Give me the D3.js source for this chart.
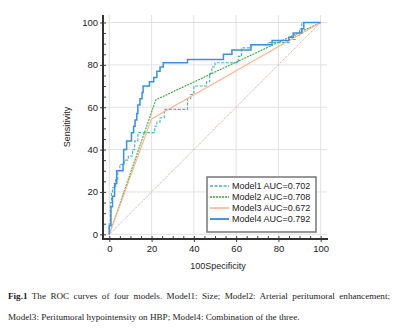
<!DOCTYPE html>
<html>
<head>
<meta charset="utf-8">
<script src="https://cdn.jsdelivr.net/npm/d3@7"></script>
<style>
  body { margin: 0; background: #fff; }
  svg { display: block; }
</style>
</head>
<body>
<svg id="chart" width="400" height="331"></svg>
<script>
// ROC points [100-Specificity, Sensitivity]
const model1Points = [[0,0],[0,5],[0.5,15],[1,20],[1.5,22],[3,26],[4,30],[5,33],[7,35],[9,37],[11,40],[12,44],[13.5,48],[21.5,51],[22.5,53],[24,55],[26,59],[37,64],[38.5,66],[40,70],[46,72],[47.5,76],[48.5,79],[50,81],[61,84],[62.5,88],[67,89.5],[75,90.5],[85,92],[88,94],[90,97],[91,100],[100,100]];
const model2Points = [[0,0],[22,63.5],[100,100]];
const model3Points = [[0,0],[20,54.5],[100,100]];
const model4Points = [[0,0],[0,4],[0.8,13],[1.5,18],[2.5,24],[3.5,30],[6.5,33],[6.8,40],[8.2,44],[10.5,48],[11.5,51],[12.2,54],[13,57],[13.5,61],[14.5,64],[15.5,67],[16,70],[19,72],[21,74],[22.5,77],[24,79],[25.5,81],[37,82.5],[54,85],[58,87],[67,89.5],[77,91.5],[85,93],[87,95],[91,97],[92,100],[100,100]];
const legendLabels = ['Model1 AUC=0.702', 'Model2 AUC=0.708', 'Model3 AUC=0.672', 'Model4 AUC=0.792'];
const majorTicks = [0, 20, 40, 60, 80, 100];
const minorTicks = d3.range(0, 101, 5);
const caption1 = 'The ROC curves of four models. Model1: Size; Model2: Arterial peritumoral enhancement;';
const caption2 = 'Model3: Peritumoral hypointensity on HBP; Model4: Combination of the three.';

const svg = d3.select('#chart');
const x = d3.scaleLinear().domain([0, 100]).range([109.3, 320.7]);
const y = d3.scaleLinear().domain([0, 100]).range([234.3, 22.5]);
const plotLeft = 103, plotRight = 327, plotTop = 15, plotBottom = 239;

// grid
svg.append('g').selectAll('line').data(majorTicks).enter().append('line')
  .attr('x1', plotLeft).attr('x2', plotRight).attr('y1', d => y(d)).attr('y2', d => y(d))
  .attr('stroke', '#e2e2e2').attr('stroke-width', 1);
svg.append('g').selectAll('line').data(majorTicks).enter().append('line')
  .attr('x1', d => x(d)).attr('x2', d => x(d)).attr('y1', plotTop).attr('y2', plotBottom)
  .attr('stroke', '#e2e2e2').attr('stroke-width', 1);

// axes
const font = 'Arial, "Liberation Sans", sans-serif';
const yMinor = svg.append('g').attr('transform', `translate(${plotLeft},0)`)
  .call(d3.axisLeft(y).tickValues(minorTicks).tickSize(-3).tickFormat(''));
const yMajor = svg.append('g').attr('transform', `translate(${plotLeft},0)`)
  .call(d3.axisLeft(y).tickValues(majorTicks).tickSize(3).tickPadding(2));
const xMinor = svg.append('g').attr('transform', `translate(0,${plotBottom})`)
  .call(d3.axisBottom(x).tickValues(minorTicks).tickSize(-3).tickFormat(''));
const xMajor = svg.append('g').attr('transform', `translate(0,${plotBottom})`)
  .call(d3.axisBottom(x).tickValues(majorTicks).tickSize(3).tickPadding(3));
[yMinor, yMajor, xMinor, xMajor].forEach(g => {
  g.select('.domain').remove();
  g.selectAll('line').attr('stroke', '#444');
  g.selectAll('text').attr('font-family', font).attr('font-size', 9.5).attr('fill', '#222');
});
svg.append('line').attr('x1', plotLeft).attr('x2', plotLeft).attr('y1', plotTop).attr('y2', plotBottom + 1)
  .attr('stroke', '#333').attr('stroke-width', 2);
svg.append('line').attr('x1', plotLeft - 1).attr('x2', plotRight + 1).attr('y1', plotBottom).attr('y2', plotBottom)
  .attr('stroke', '#333').attr('stroke-width', 2);

// axis titles
svg.append('text').attr('transform', 'translate(70,127) rotate(-90)')
  .attr('text-anchor', 'middle').attr('font-family', font).attr('font-size', 9).attr('fill', '#222')
  .text('Sensitivity');
svg.append('text').attr('x', 218).attr('y', 269)
  .attr('text-anchor', 'middle').attr('font-family', font).attr('font-size', 9).attr('fill', '#222')
  .text('100Specificity');

// reference diagonal
svg.append('line').attr('x1', x(0)).attr('y1', y(0)).attr('x2', x(100)).attr('y2', y(100))
  .attr('stroke', '#e99a9a').attr('stroke-width', 1).attr('stroke-dasharray', '1.2,1');

const series = [
  { pts: model1Points, color: '#46b5b5', width: 1.1, dash: '3,1.5', curve: d3.curveStepAfter },
  { pts: model2Points, color: '#38a838', width: 1.1, dash: '2,1', curve: d3.curveLinear },
  { pts: model3Points, color: '#ffb68e', width: 1.2, dash: null, curve: d3.curveLinear },
  { pts: model4Points, color: '#3a8ef2', width: 1.5, dash: null, curve: d3.curveStepAfter }
];
series.forEach(s => {
  const line = d3.line().x(d => x(d[0])).y(d => y(d[1])).curve(s.curve);
  svg.append('path').datum(s.pts).attr('d', line)
    .attr('fill', 'none').attr('stroke', s.color).attr('stroke-width', s.width)
    .attr('stroke-dasharray', s.dash);
});

// legend
const lg = svg.append('g');
lg.append('rect').attr('x', 207).attr('y', 177).attr('width', 109).attr('height', 55)
  .attr('fill', '#fff').attr('stroke', '#777').attr('stroke-width', 1.5);
legendLabels.forEach((t, i) => {
  const cy = 186 + i * 11;
  lg.append('line').attr('x1', 210).attr('x2', 229).attr('y1', cy).attr('y2', cy)
    .attr('stroke', series[i].color).attr('stroke-width', series[i].width + 0.4)
    .attr('stroke-dasharray', series[i].dash);
  lg.append('text').attr('x', 232).attr('y', cy + 3.2)
    .attr('font-family', font).attr('font-size', 9).attr('fill', '#222').text(t);
});

// caption
const serif = '"Liberation Serif", "Times New Roman", serif';
const c2 = svg.append('text').attr('x', 8).attr('y', 320)
  .attr('font-family', serif).attr('font-size', 10).attr('fill', '#222').text(caption2);
const fs = 10 * 292 / c2.node().getComputedTextLength();
c2.attr('font-size', fs);
const c1 = svg.append('text').attr('x', 8).attr('y', 299)
  .attr('font-family', serif).attr('font-size', fs).attr('fill', '#222');
c1.append('tspan').attr('font-weight', 'bold').text('Fig.1');
c1.append('tspan').text(' ' + caption1);
const nat = c1.node().getComputedTextLength();
const spaces = (' ' + caption1).split(' ').length - 1;
c1.attr('word-spacing', (382 - nat) / spaces);
</script>
</body>
</html>
